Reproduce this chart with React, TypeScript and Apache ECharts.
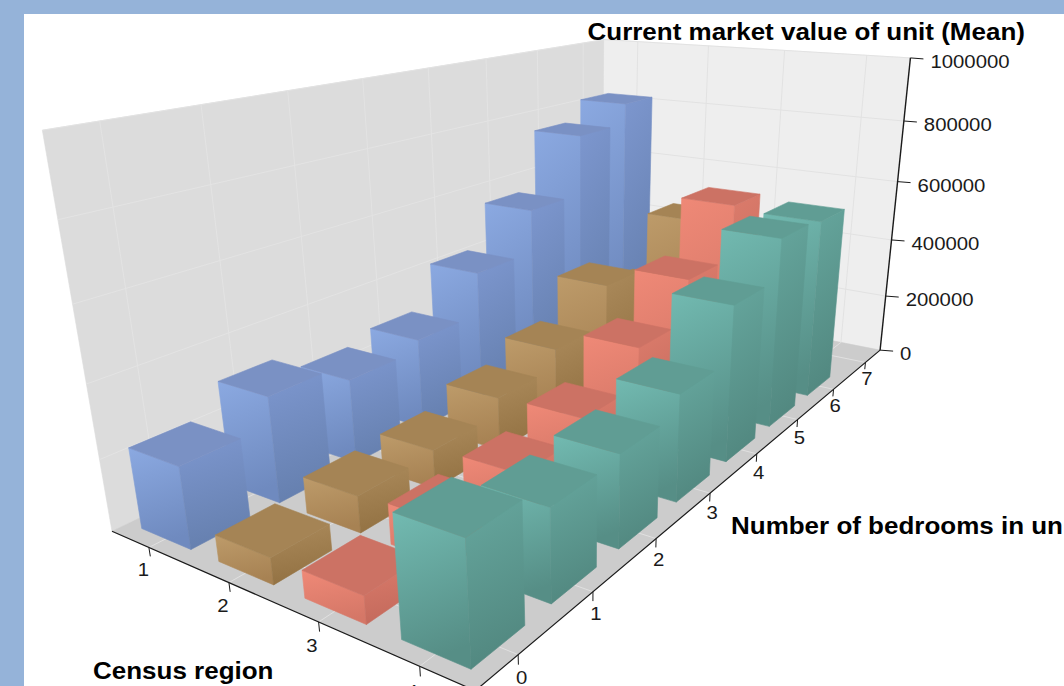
import React, { useEffect, useRef } from "react";
import * as echarts from "echarts";

// Mean market value by census region (rows) and number of bedrooms (columns).
const censusRegions = ["1", "2", "3", "4"];
const bedroomCounts = ["0", "1", "2", "3", "4", "5", "6", "7"];
const valueTicks = [0, 200000, 400000, 600000, 800000, 1000000];
const region1Values = [225000, 303000, 250000, 279000, 410000, 548000, 744000, 813000];
const region2Values = [72000, 103000, 113000, 162000, 219000, 344000, 250000, 432000];
const region3Values = [73000, 113000, 122000, 169000, 283000, 412000, 581000, null];
const region4Values = [307000, 244000, 256000, 307000, 463000, 581000, 568000, null];
const regionValues = [region1Values, region2Values, region3Values, region4Values];

const valueMax = 1000000;
const barFill = 0.65;

const regionColors = [
  { top: "#7A91C4", front: ["#8BA9E1", "#6F8ABF"], side: ["#7D97CF", "#6680AF"] },
  { top: "#A58455", front: ["#BD9B6A", "#A78253"], side: ["#AB8A5B", "#937243"] },
  { top: "#CC7264", front: ["#EF8977", "#D57767"], side: ["#DC7C6C", "#C46A5C"] },
  { top: "#609D94", front: ["#72BAB1", "#568E86"], side: ["#66A79E", "#528880"] },
];

// Perspective camera: the floor corner at region start and bedroom start,
// the vanishing point of each axis, and each axis's depth weight.
const origin = [112, 531.3];
const vanishX = [-1263, -72];
const vanishY = [1402, -89];
const vanishZ = [581, 3232];
const weightX = -0.209;
const weightY = 0.6135;
const weightZ = -0.1293;

const project = (u: number, v: number, w: number): number[] => {
  const a = weightX * u;
  const b = weightY * v;
  const c = weightZ * w;
  const d = 1 + a + b + c;
  return [
    (origin[0] + a * vanishX[0] + b * vanishY[0] + c * vanishZ[0]) / d,
    (origin[1] + a * vanishX[1] + b * vanishY[1] + c * vanishZ[1]) / d,
  ];
};

// Scales from data values to unit-cube coordinates.
const regionScale = (i: number) => (i + 0.5) / censusRegions.length;
const bedroomScale = (j: number) => (j + 0.5) / bedroomCounts.length;
const valueScale = (value: number) => value / valueMax;

const AXIS_FONT = "Liberation Sans";
const AXIS_COLOR = "#1A1A1A";
const TEXT_STRETCH = 1.13;

const line = (p: number[], q: number[], stroke: string, lineWidth = 1) => ({
  type: "line",
  silent: true,
  shape: { x1: p[0], y1: p[1], x2: q[0], y2: q[1] },
  style: { stroke, lineWidth },
});

const poly = (points: number[][], fill: any) => ({
  type: "polygon",
  silent: true,
  shape: { points },
  style: { fill, stroke: fill, lineWidth: 0.6 },
});

const label = (text: string, x: number, y: number, size: number, bold: boolean, align = "center") => ({
  type: "text",
  silent: true,
  x,
  y,
  scaleX: TEXT_STRETCH,
  style: {
    text,
    x: 0,
    y: 0,
    fill: bold ? "#000000" : AXIS_COLOR,
    font: `${bold ? "bold " : ""}${size}px "${AXIS_FONT}", Arial, sans-serif`,
    textAlign: align,
    textVerticalAlign: "middle",
  },
});

const renderFrame = () => {
  const children: any[] = [];
  // back walls and floor
  children.push(poly([project(0, 0, 0), project(0, 1, 0), project(0, 1, 1), project(0, 0, 1)], "#DCDCDC"));
  children.push(poly([project(0, 1, 0), project(1, 1, 0), project(1, 1, 1), project(0, 1, 1)], "#EEEEEE"));
  children.push(poly([project(0, 0, 0), project(1, 0, 0), project(1, 1, 0), project(0, 1, 0)], "#CCCCCC"));

  // grid lines on walls and floor
  bedroomCounts.forEach((_, j) => {
    const v = bedroomScale(j);
    children.push(line(project(0, v, 0), project(0, v, 1), "#E3E3E3"));
    children.push(line(project(0, v, 0), project(1, v, 0), "#E0E0E0"));
  });
  censusRegions.forEach((_, i) => {
    const u = regionScale(i);
    children.push(line(project(u, 1, 0), project(u, 1, 1), "#E2E2E2"));
    children.push(line(project(u, 0, 0), project(u, 1, 0), "#E0E0E0"));
  });
  valueTicks.slice(1).forEach((t) => {
    const w = valueScale(t);
    children.push(line(project(0, 0, w), project(0, 1, w), "#E3E3E3"));
    children.push(line(project(0, 1, w), project(1, 1, w), "#E2E2E2"));
  });
  return children;
};

const renderAxes = () => {
  const children: any[] = [];
  children.push(line(project(0, 0, 0), project(1, 0, 0), AXIS_COLOR, 1.2));
  children.push(line(project(1, 0, 0), project(1, 1, 0), AXIS_COLOR, 1.2));
  children.push(line(project(1, 1, 0), project(1, 1, 1), AXIS_COLOR, 1.4));

  censusRegions.forEach((name, i) => {
    const u = regionScale(i);
    children.push(line(project(u, 0, 0), project(u, 0, -0.025), AXIS_COLOR));
    const p = project(u, 0, -0.06);
    children.push(label(name, p[0] - 9, p[1] + 1, 18, false));
  });
  bedroomCounts.forEach((name, j) => {
    const v = bedroomScale(j);
    children.push(line(project(1, v, 0), project(1, v, -0.025), AXIS_COLOR));
    const p = project(1, v, -0.055);
    children.push(label(name, p[0] + 3, p[1] + 1.5, 18, false));
  });
  valueTicks.forEach((t) => {
    const p = project(1, 1, valueScale(t));
    children.push(line(p, [p[0] + 13, p[1] + 1], AXIS_COLOR));
    children.push(label(String(t), p[0] + 20, p[1] + 4, 18, false, "left"));
  });

  children.push(label("Current market value of unit (Mean)", 587.5, 32, 23, true, "left"));
  children.push(label("Census region", 93, 671, 23, true, "left"));
  children.push(label("Number of bedrooms in unit", 731, 526, 23, true, "left"));
  return children;
};

// A bar is a prism on the floor: top face plus the two faces that look at the viewer.
const renderBar = (regionIndex: number) => (_params: any, api: any) => {
  const j = api.value(0);
  const w = valueScale(api.value(1));
  const colors = regionColors[regionIndex];
  const du = (barFill * 0.5) / censusRegions.length;
  const dv = (barFill * 0.5) / bedroomCounts.length;
  const u0 = regionScale(regionIndex) - du;
  const u1 = regionScale(regionIndex) + du;
  const v0 = bedroomScale(j) - dv;
  const v1 = bedroomScale(j) + dv;
  const shade = (stops: string[]) => ({
    type: "linear",
    x: 0,
    y: 0,
    x2: 0.2,
    y2: 1,
    colorStops: [
      { offset: 0, color: stops[0] },
      { offset: 1, color: stops[1] },
    ],
  });
  return {
    type: "group",
    children: [
      poly([project(u0, v0, 0), project(u1, v0, 0), project(u1, v0, w), project(u0, v0, w)], shade(colors.front)),
      poly([project(u1, v0, 0), project(u1, v1, 0), project(u1, v1, w), project(u1, v0, w)], shade(colors.side)),
      poly([project(u0, v0, w), project(u1, v0, w), project(u1, v1, w), project(u0, v1, w)], colors.top),
    ],
  };
};

export default function App() {
  const ref = useRef<HTMLDivElement>(null);
  useEffect(() => {
    const chart = echarts.init(ref.current!, undefined, { renderer: "svg" });
    const barSeries = regionValues.map((values, i) => ({
      type: "custom",
      name: `Region ${censusRegions[i]}`,
      coordinateSystem: "none",
      z: 10 + i,
      silent: true,
      // far bars first so nearer ones paint over them
      data: values
        .map((value, j) => [j, value])
        .filter((d) => d[1] !== null)
        .reverse(),
      renderItem: renderBar(i),
    }));
    chart.setOption({
      animation: false,
      backgroundColor: "#FFFFFF",
      graphic: [
        { type: "rect", z: -10, shape: { x: 0, y: 0, width: 1064, height: 14 }, style: { fill: "#95B3D9" } },
        { type: "rect", z: -10, shape: { x: 0, y: 0, width: 24, height: 686 }, style: { fill: "#95B3D9" } },
      ],
      series: [
        {
          type: "custom",
          coordinateSystem: "none",
          z: 1,
          silent: true,
          data: [[0]],
          renderItem: () => ({ type: "group", children: renderFrame() }),
        },
        ...barSeries,
        {
          type: "custom",
          coordinateSystem: "none",
          z: 20,
          silent: true,
          data: [[0]],
          renderItem: () => ({ type: "group", children: renderAxes() }),
        },
      ],
    });
    return () => chart.dispose();
  }, []);
  return (
    <div
      ref={ref}
      style={{ position: "fixed", left: 0, top: 0, width: 1064, height: 686 }}
    />
  );
}
